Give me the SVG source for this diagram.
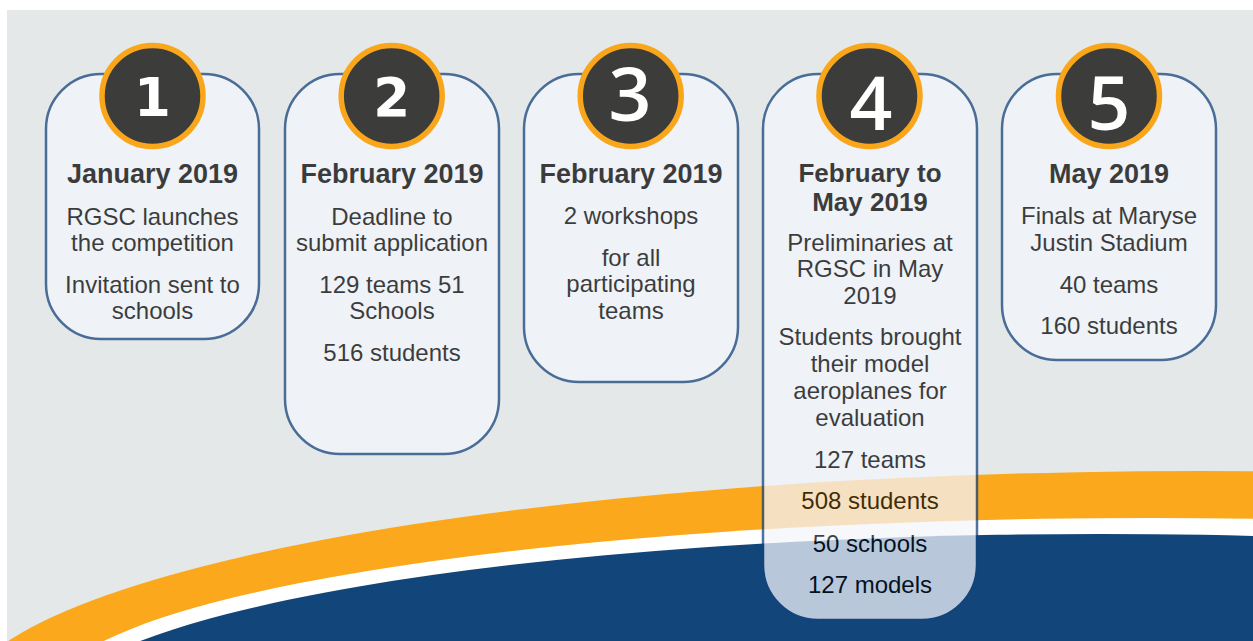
<svg xmlns="http://www.w3.org/2000/svg" width="1253" height="641" viewBox="0 0 1253 641">
<style>
.card{opacity:.74}
.box{fill:#f3f6fc;stroke:#14437b;stroke-width:2.5}
.t{font-family:"Liberation Sans",Arial,sans-serif;font-size:24px;fill:#000;text-anchor:middle}
.h{font-family:"Liberation Sans",Arial,sans-serif;font-size:27px;font-weight:bold;fill:#000;text-anchor:middle}
.h2{font-size:26px}
.badge{fill:#3c3c3b;stroke:#f9a61a;stroke-width:5.5}
.nb{font-family:"DejaVu Sans",sans-serif;font-weight:bold;font-size:53px;fill:#fff;text-anchor:middle}
.nr{font-family:"Open Sans","Liberation Sans",sans-serif;font-weight:600;font-size:75px;fill:#fff;text-anchor:middle}
</style>
<defs>
<clipPath id="bgclip"><rect x="7" y="10" width="1246" height="631"/></clipPath>
</defs>
<rect x="0" y="0" width="1253" height="641" fill="#fff"/>
<g id="background" clip-path="url(#bgclip)">
<rect x="7" y="10" width="1246" height="631" fill="#e4e8e9"/>
<ellipse cx="1200" cy="706" rx="1240" ry="235" fill="#fba81c"/>
<ellipse cx="1150" cy="696" rx="1100" ry="178" fill="#ffffff"/>
<ellipse cx="1100" cy="714" rx="1050" ry="180" fill="#12467a"/>
</g>
<g id="connectors"></g>
<g id="node1">
<g class="card">
<rect class="box" x="46" y="74" width="213" height="265" rx="55"/>
<text class="h" x="152.5" y="183">January 2019</text>
<text class="t" x="152.5" y="225">RGSC launches</text>
<text class="t" x="152.5" y="251">the competition</text>
<text class="t" x="152.5" y="293">Invitation sent to</text>
<text class="t" x="152.5" y="319">schools</text>
</g>
<circle class="badge" cx="152.5" cy="96" r="50.5"/>
<text class="nb" x="152.5" y="115.5">1</text>
</g>
<g id="node2">
<g class="card">
<rect class="box" x="285" y="74" width="214" height="380" rx="55"/>
<text class="h" x="392" y="183">February 2019</text>
<text class="t" x="392" y="225">Deadline to</text>
<text class="t" x="392" y="251">submit application</text>
<text class="t" x="392" y="293">129 teams 51</text>
<text class="t" x="392" y="319">Schools</text>
<text class="t" x="392" y="361">516 students</text>
</g>
<circle class="badge" cx="391.7" cy="96" r="50.5"/>
<text class="nb" x="391.7" y="115.5">2</text>
</g>
<g id="node3">
<g class="card">
<rect class="box" x="524" y="74" width="214" height="308" rx="55"/>
<text class="h" x="631" y="183">February 2019</text>
<text class="t" x="631" y="224">2 workshops</text>
<text class="t" x="631" y="266">for all</text>
<text class="t" x="631" y="292">participating</text>
<text class="t" x="631" y="319">teams</text>
</g>
<circle class="badge" cx="630.7" cy="96" r="50.5"/>
<text class="nr" x="630" y="121">3</text>
</g>
<g id="node4">
<g class="card">
<rect class="box" x="763" y="74" width="214" height="546" rx="55"/>
<text class="h h2" x="870" y="181.5">February to</text>
<text class="h h2" x="870" y="211">May 2019</text>
<text class="t" x="870" y="251">Preliminaries at</text>
<text class="t" x="870" y="277">RGSC in May</text>
<text class="t" x="870" y="304">2019</text>
<text class="t" x="870" y="345">Students brought</text>
<text class="t" x="870" y="372">their model</text>
<text class="t" x="870" y="399">aeroplanes for</text>
<text class="t" x="870" y="426">evaluation</text>
<text class="t" x="870" y="468">127 teams</text>
<text class="t" x="870" y="509">508 students</text>
<text class="t" x="870" y="552">50 schools</text>
<text class="t" x="870" y="593">127 models</text>
</g>
<circle class="badge" cx="869.5" cy="96" r="50.5"/>
<text class="nr" x="871" y="130">4</text>
</g>
<g id="node5">
<g class="card">
<rect class="box" x="1002" y="74" width="214" height="286" rx="55"/>
<text class="h" x="1109" y="183">May 2019</text>
<text class="t" x="1109" y="224">Finals at Maryse</text>
<text class="t" x="1109" y="251">Justin Stadium</text>
<text class="t" x="1109" y="293">40 teams</text>
<text class="t" x="1109" y="334">160 students</text>
</g>
<circle class="badge" cx="1109" cy="96" r="50.5"/>
<text class="nr" x="1109" y="130">5</text>
</g>
</svg>
